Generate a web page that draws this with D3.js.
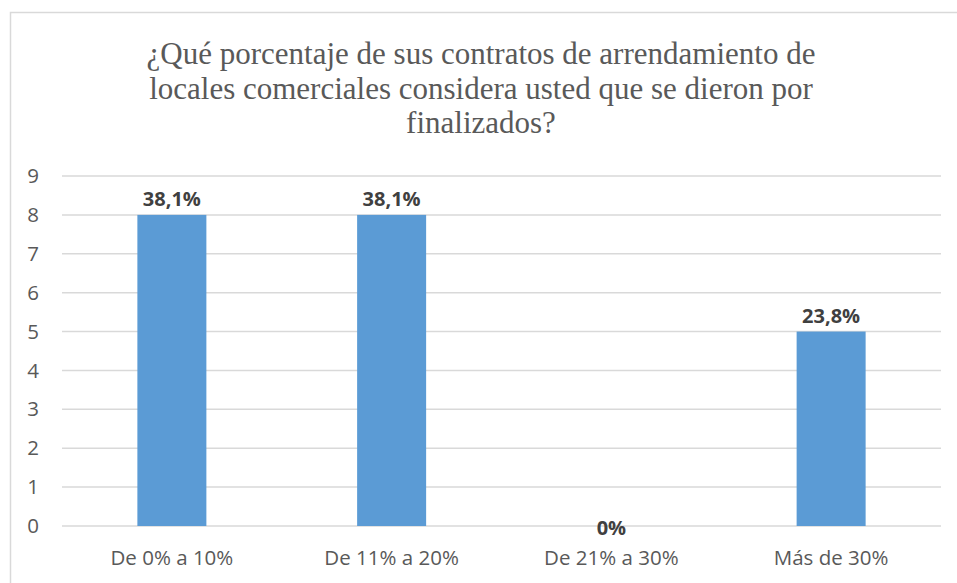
<!DOCTYPE html>
<html>
<head>
<meta charset="utf-8">
<script src="https://cdn.jsdelivr.net/npm/d3@7"></script>
<style>
  body { margin: 0; background: #fff; }
  svg { display: block; }
</style>
</head>
<body>
<script>
// Chart data
var categories = ["De 0% a 10%", "De 11% a 20%", "De 21% a 30%", "Más de 30%"];
var counts = [8, 8, 0, 5];
var percentLabels = ["38,1%", "38,1%", "0%", "23,8%"];
var yTicks = [0, 1, 2, 3, 4, 5, 6, 7, 8, 9];
var titleLines = [
  "¿Qué porcentaje de sus contratos de arrendamiento de",
  "locales comerciales considera usted que se dieron por",
  "finalizados?"
];

var width = 957;
var height = 583;

var svg = d3.select("body")
  .append("svg")
  .attr("width", width)
  .attr("height", height);

// chart frame (runs off the right and bottom edge)
svg.append("rect")
  .attr("x", 10.5)
  .attr("y", 12.5)
  .attr("width", 960)
  .attr("height", 600)
  .style("fill", "none")
  .style("stroke", "#d9d9d9")
  .style("stroke-width", 1.5);

// plot area
var margin = { top: 176, right: 16, bottom: 57, left: 62 };
var plotWidth = width - margin.left - margin.right;
var plotHeight = height - margin.top - margin.bottom;

var g = svg.append("g")
  .attr("transform", "translate(" + margin.left + "," + margin.top + ")");

var xScale = d3.scaleBand()
  .domain(categories)
  .range([0, plotWidth])
  .paddingInner(0.686)
  .paddingOuter(0.343);

var yScale = d3.scaleLinear()
  .domain([0, 9])
  .range([plotHeight, 0]);

// gridlines
g.selectAll(".grid")
  .data(yTicks)
  .enter().append("line")
  .attr("class", "grid")
  .attr("x1", 0)
  .attr("x2", plotWidth)
  .attr("y1", function(d) { return yScale(d); })
  .attr("y2", function(d) { return yScale(d); })
  .style("stroke", "#d9d9d9")
  .style("stroke-width", 1.5);

// y axis labels
var yAxis = d3.axisLeft(yScale).tickValues(yTicks).tickSize(0).tickPadding(23);
var yAxisG = g.append("g").call(yAxis);
yAxisG.select(".domain").remove();
yAxisG.selectAll("text")
  .style("font-family", "'Open Sans', sans-serif")
  .style("font-size", "20.5px")
  .style("fill", "#595959");

// bars
g.selectAll(".bar")
  .data(counts)
  .enter().append("rect")
  .attr("class", "bar")
  .attr("x", function(d, i) { return xScale(categories[i]); })
  .attr("width", xScale.bandwidth())
  .attr("y", function(d) { return yScale(d); })
  .attr("height", function(d) { return plotHeight - yScale(d); })
  .style("fill", "#5b9bd5");

// data labels
g.selectAll(".value")
  .data(counts)
  .enter().append("text")
  .attr("class", "value")
  .attr("x", function(d, i) { return xScale(categories[i]) + xScale.bandwidth() / 2; })
  .attr("y", function(d) { return d > 0 ? yScale(d) - 9 : yScale(d) + 9; })
  .attr("text-anchor", "middle")
  .style("font-family", "'Open Sans', sans-serif")
  .style("font-weight", "bold")
  .style("font-size", "20px")
  .style("fill", "#404040")
  .text(function(d, i) { return percentLabels[i]; });

// x axis labels
var xAxis = d3.axisBottom(xScale).tickSize(0).tickPadding(24);
var xAxisG = g.append("g")
  .attr("transform", "translate(0," + plotHeight + ")")
  .call(xAxis);
xAxisG.select(".domain").remove();
xAxisG.selectAll("text")
  .style("font-family", "'Open Sans', sans-serif")
  .style("font-size", "20.5px")
  .style("fill", "#595959");

// title
svg.append("text")
  .attr("x", 481)
  .attr("y", 64)
  .attr("text-anchor", "middle")
  .style("font-family", "'Liberation Serif', 'Times New Roman', serif")
  .style("font-size", "31px")
  .style("fill", "#595959")
  .selectAll("tspan")
  .data(titleLines)
  .enter().append("tspan")
  .attr("x", 481)
  .attr("dy", function(d, i) { return i === 0 ? 0 : 34.5; })
  .text(function(d) { return d; });
</script>
</body>
</html>
